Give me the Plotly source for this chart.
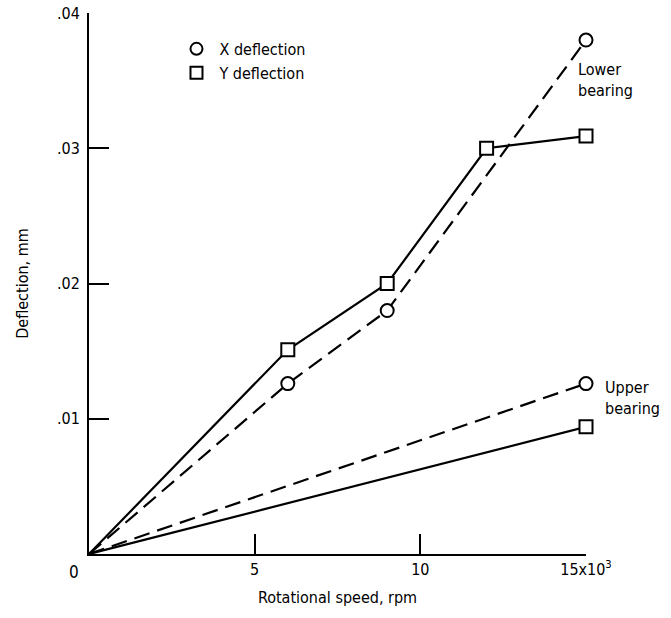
import plotly.graph_objects as go

# Data (rotational speed in thousands of rpm, deflection in mm)
lower_x_speed = [0, 6, 9, 15]
lower_x_defl = [0, 0.0126, 0.0180, 0.0380]
lower_y_speed = [0, 6, 9, 12, 15]
lower_y_defl = [0, 0.0151, 0.0200, 0.0300, 0.0309]
upper_x_speed = [0, 15]
upper_x_defl = [0, 0.0126]
upper_y_speed = [0, 15]
upper_y_defl = [0, 0.0094]

x_tickvals = [5, 10, 15]
x_ticktext = ["5", "10", "15x10<sup>3</sup>"]
y_tickvals = [0.01, 0.02, 0.03, 0.04]
y_ticktext = [".01", ".02", ".03", ".04"]

FONT = "DejaVu Sans Condensed, Liberation Sans Narrow, Arial Narrow, sans-serif"
DASH = "16px,8px"
LW = 2.2
FS = 16

fig = go.Figure()

def add(x, y, dash, symbol, name):
    fig.add_trace(go.Scatter(
        x=x, y=y, mode="lines", line=dict(color="black", width=LW, dash=dash),
        showlegend=False, cliponaxis=False, hoverinfo="skip"))
    fig.add_trace(go.Scatter(
        x=x[1:], y=y[1:], mode="markers",
        marker=dict(symbol=symbol, size=13, color="white",
                    line=dict(color="black", width=2)),
        showlegend=False, cliponaxis=False, name=name))

add(lower_x_speed, lower_x_defl, DASH, "circle", "X deflection")
add(lower_y_speed, lower_y_defl, "solid", "square", "Y deflection")
add(upper_x_speed, upper_x_defl, DASH, "circle", "X deflection")
add(upper_y_speed, upper_y_defl, "solid", "square", "Y deflection")

# legend entries
for sym, nm in [("circle", "X deflection"), ("square", "Y deflection")]:
    fig.add_trace(go.Scatter(
        x=[None], y=[None], mode="markers", name=nm,
        marker=dict(symbol=sym, size=13, color="white",
                    line=dict(color="black", width=2))))

fig.update_layout(
    width=671, height=618,
    margin=dict(l=89, r=85, t=13, b=64, autoexpand=False),
    paper_bgcolor="white", plot_bgcolor="white",
    font=dict(family=FONT, size=FS, color="black"),
    showlegend=True,
    legend=dict(x=0.17, y=0.965, xanchor="left", yanchor="top",
                bgcolor="rgba(0,0,0,0)", font=dict(size=FS),
                itemsizing="constant", tracegroupgap=0, itemwidth=36),
    xaxis=dict(range=[0, 15], showgrid=False, zeroline=False,
               showline=True, linecolor="black", linewidth=2,
               ticks="inside", ticklen=20, tickwidth=2, tickcolor="black",
               tickvals=x_tickvals, ticktext=x_ticktext, automargin=False,
               title=dict(text="Rotational speed, rpm", standoff=14,
                          font=dict(size=FS))),
    yaxis=dict(range=[0, 0.04], showgrid=False, zeroline=False,
               showline=True, linecolor="black", linewidth=2,
               ticks="inside", ticklen=20, tickwidth=2, tickcolor="black",
               tickvals=y_tickvals, ticktext=y_ticktext, automargin=False,
               ticklabelstandoff=4,
               title=dict(text="Deflection, mm", standoff=24,
                          font=dict(size=FS))),
    annotations=[
        dict(text="0", x=0, y=0, xref="x", yref="y", xanchor="right",
             yanchor="top", xshift=-8, yshift=-6, showarrow=False,
             font=dict(size=FS + 1)),
        dict(text="Lower<br>bearing", x=15, y=0.0380, xref="x", yref="y",
             xanchor="left", yanchor="top", align="left", showarrow=False,
             xshift=-10, yshift=-18, font=dict(size=FS)),
        dict(text="Upper<br>bearing", x=15, y=0.0126, xref="x", yref="y",
             xanchor="left", yanchor="top", align="left", showarrow=False,
             xshift=17, yshift=8, font=dict(size=FS)),
    ],
)

fig.write_html("out.html")
